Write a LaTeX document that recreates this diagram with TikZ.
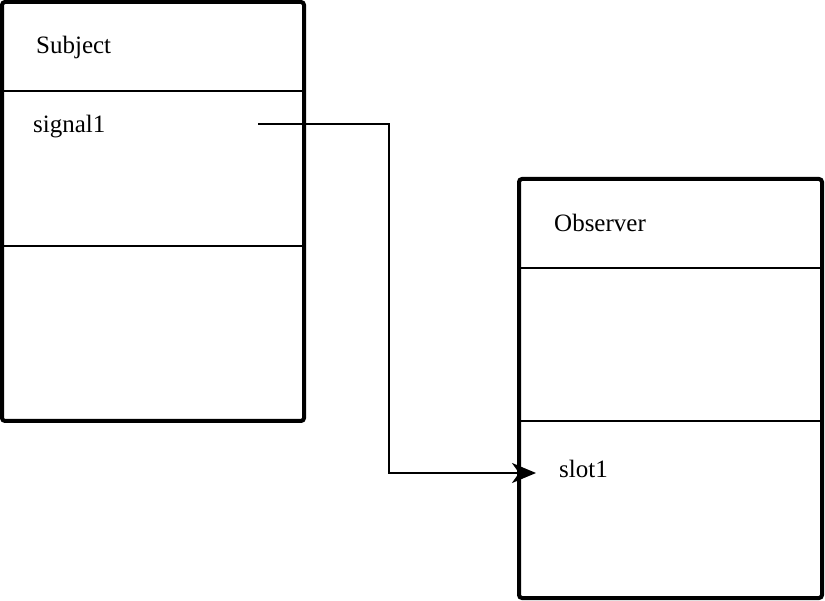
\documentclass[tikz,border=0pt]{standalone}
\usepackage{fontspec}
\setmainfont{Liberation Serif}
\usetikzlibrary{arrows.meta}
\begin{document}
\begin{tikzpicture}[x=1pt,y=-1pt,
  classbox/.style={draw,line width=4pt,rounded corners=3pt,inner sep=0pt},
  divider/.style={line width=1.5pt},
  label/.style={anchor=west,inner sep=0pt,font=\fontsize{25}{29}\selectfont},
  link/.style={line width=2pt,-{Stealth[length=24pt,width=20pt,inset=7pt]}}]
  \useasboundingbox (0,0) rectangle (825,601);
  % Subject class
  \node[classbox,minimum width=302pt,minimum height=419pt] (subj) at (153,211.5) {};
  \draw[divider] (subj.west |- 0,91) -- (subj.east |- 0,91);
  \draw[divider] (subj.west |- 0,246) -- (subj.east |- 0,246);
  \node[label] (subjname) at (36,47) {Subject};
  \node[label] (signal) at (33,127) {signal1};
  \coordinate (sigout) at (258,124);
  % Observer class
  \node[classbox,minimum width=303pt,minimum height=419pt] (obs) at (670.5,388.5) {};
  \draw[divider] (obs.west |- 0,268) -- (obs.east |- 0,268);
  \draw[divider] (obs.west |- 0,421) -- (obs.east |- 0,421);
  \node[label] (obsname) at (554,223) {Observer};
  \node[label] (slot) at (559,469) {slot1};
  \coordinate (slotin) at (536,473);
  % signal-slot connection
  \draw[link] (sigout) -- (389,124) |- (slotin);
\end{tikzpicture}
\end{document}
